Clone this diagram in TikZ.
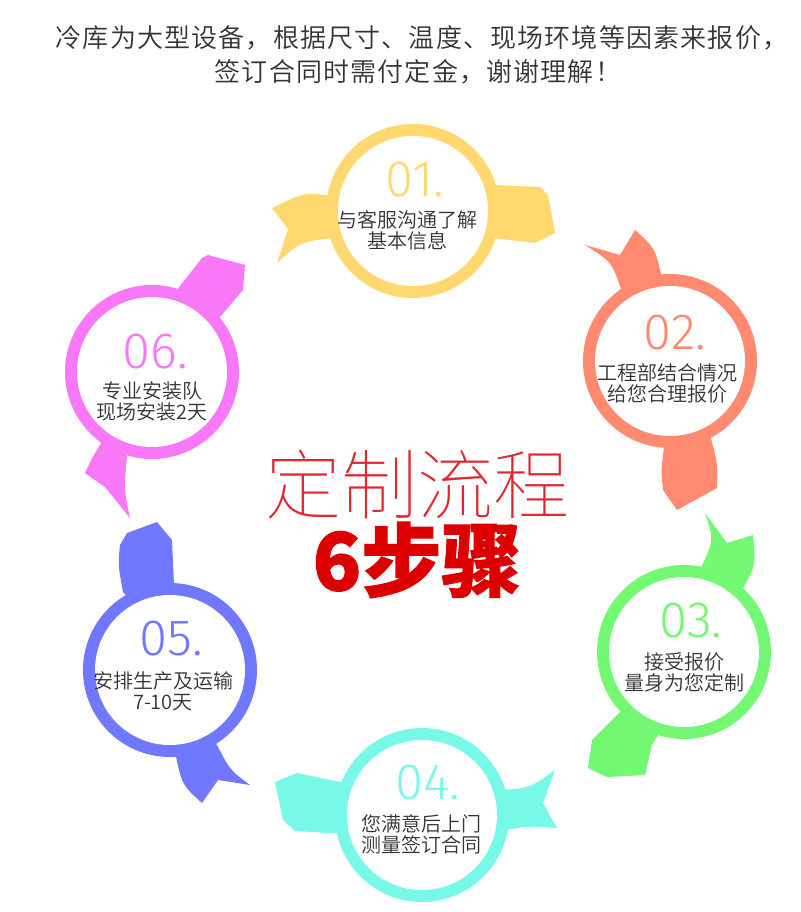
\documentclass[tikz,border=0pt]{standalone}
\usepackage{fontspec}
\setmainfont{Noto Sans CJK SC}
\newfontfamily\thindigits{Fira Sans Light}
\newfontfamily\cjklight{Noto Sans CJK SC Thin}
\newfontfamily\cjkdemi{Noto Sans CJK SC DemiLight}
\newfontfamily\heavy{Noto Sans CJK SC}[BoldFeatures={FakeBold=1.3}]
\definecolor{cy}{HTML}{FFD870}
\definecolor{cs}{HTML}{FF8A70}
\definecolor{cg}{HTML}{72F872}
\definecolor{cc}{HTML}{78F8E6}
\definecolor{cb}{HTML}{7078FF}
\definecolor{cp}{HTML}{F878F8}
\definecolor{redthin}{HTML}{E0262E}
\definecolor{redbold}{HTML}{DD0000}
\definecolor{txt}{HTML}{333333}
\tikzset{
  num/.style={inner sep=0pt, font=\thindigits\fontsize{51}{51}\selectfont, text=#1},
  desc/.style={inner sep=0pt, align=center, text=txt, font=\cjkdemi\fontsize{20}{21}\selectfont},
  title/.style={inner sep=0pt, text=txt, font=\cjkdemi\fontsize{26}{30}\selectfont\addfontfeature{LetterSpace=4.5}},
}
\newcommand{\stagering}[3]{% center, color
  \fill[#3] (#1,#2) circle (87pt);
  \fill[white] (#1,#2) circle (75pt);
}
\begin{document}
\begin{tikzpicture}[x=1pt,y=-1pt]
\useasboundingbox[fill=white] (0,0) rectangle (800,912);

% title
\node[title] (t1) at (422,38) {冷库为大型设备，根据尺寸、温度、现场环境等因素来报价，};
\node[title] (t2) at (418,72) {签订合同时需付定金，谢谢理解！};

% ---- ribbons ----
% 1 yellow
\fill[cy] (330,196) .. controls (305,192) .. (272,208) -- (288,229) -- (277,263) .. controls (300,242) .. (332,238) -- (370,230) -- (370,200) -- cycle;
\fill[cy] (493,185) -- (540,187) -- (548,195) -- (555,233) -- (535,243) -- (493,238) -- (460,230) -- (460,195) -- cycle;
% 2 salmon
\fill[cs] (622,292) .. controls (612,262) .. (585,245) -- (620,255) -- (635,230) .. controls (655,248) .. (662,278) -- (660,320) -- (630,320) -- cycle;
\fill[cs] (665,440) .. controls (661,470) .. (663,490) -- (677,510) -- (717,488) .. controls (718,465) .. (710,435) -- (690,400) -- cycle;
% 3 green
\fill[cg] (700,570) .. controls (714,540) .. (705,513) -- (727,543) -- (753,535) .. controls (756,565) .. (742,590) -- (700,620) -- cycle;
\fill[cg] (622,710) -- (592,740) -- (588,768) -- (607,777) -- (645,775) -- (652,745) -- (680,700) -- cycle;
% 4 cyan
\fill[cc] (345,783) -- (297,773) -- (275,782) -- (283,820) -- (295,831) -- (345,834) -- (380,820) -- (380,795) -- cycle;
\fill[cc] (500,790) .. controls (530,788) .. (555,770) -- (543,803) -- (557,828) .. controls (530,826) .. (505,830) -- (470,815) -- cycle;
% 5 blue
\fill[cb] (123,592) .. controls (118,565) .. (120,545) -- (127,533) -- (157,522) -- (172,540) -- (174,585) -- (150,620) -- cycle;
\fill[cb] (175,752) .. controls (182,785) .. (202,803) -- (218,780) -- (250,785) .. controls (230,770) .. (217,745) -- (190,720) -- cycle;
% 6 pink
\fill[cp] (173,295) -- (202,258) -- (208,255) -- (245,265) -- (243,290) -- (220,317) -- (180,340) -- cycle;
\fill[cp] (103,440) .. controls (92,458) .. (85,473) -- (105,487) -- (130,518) .. controls (124,490) .. (127,455) -- (140,420) -- cycle;

% ---- rings ----
\stagering{413}{211}{cy}
\stagering{670}{361}{cs}
\stagering{684}{652}{cg}
\stagering{422}{815}{cc}
\stagering{170}{670}{cb}
\stagering{152}{372}{cp}

% ---- texts ----
\node[num=cy] (n1) at (415,180) {01.};
\node[desc] (d1) at (407,230) {与客服沟通了解\\基本信息};
\node[num=cs] (n2) at (675,333) {02.};
\node[desc] (d2) at (667,383) {工程部结合情况\\给您合理报价};
\node[num=cg] (n3) at (691,621) {03.};
\node[desc] (d3) at (684,672) {接受报价\\量身为您定制};
\node[num=cc] (n4) at (428,783) {04.};
\node[desc] (d4) at (421,834) {您满意后上门\\测量签订合同};
\node[num=cb] (n5) at (171,639) {05.};
\node[desc] (d5) at (163,691) {安排生产及运输\\7-10天};
\node[num=cp] (n6) at (155,352) {06.};
\node[desc] (d6) at (152,401) {专业安装队\\现场安装2天};

\node[inner sep=0pt, text=redthin, font=\cjklight\fontsize{76}{76}\selectfont] (c1) at (417,485) {定制流程};
\node[inner sep=0pt, text=redbold, font=\heavy\fontsize{80}{80}\selectfont\bfseries] (c2) at (417,560) {6步骤};
\end{tikzpicture}
\end{document}
